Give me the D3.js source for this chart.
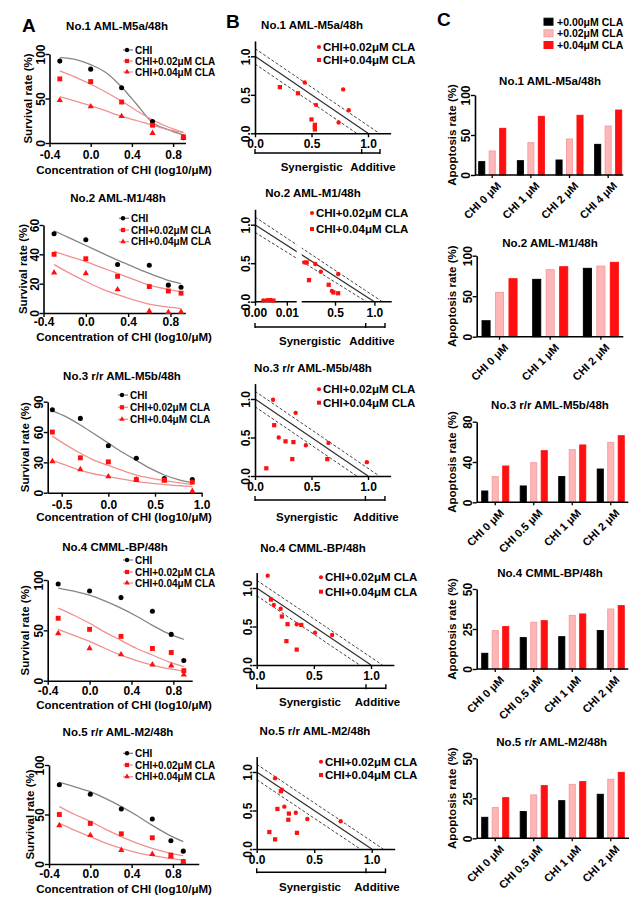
<!DOCTYPE html>
<html><head><meta charset="utf-8">
<script src="https://cdn.jsdelivr.net/npm/d3@7"></script>
<style>body{margin:0;background:#fff}svg{display:block}</style>
</head><body><svg id="chart" width="644" height="898"></svg>
<script>
// ================= DATA =================
// ---- Panel A : survival curves ----
const aTitles = ["No.1 AML-M5a/48h","No.2 AML-M1/48h","No.3 r/r AML-M5b/48h","No.4 CMML-BP/48h","No.5 r/r AML-M2/48h"];
const aSeries = ["CHI","CHI+0.02\u03bcM  CLA","CHI+0.04\u03bcM  CLA"];
const aXTicks = [-0.4,0.0,0.4,0.8];
const aXTicks3 = [-0.5,0.0,0.5,1.0];
// log10 doses
const aDoses1 = [-0.3,0,0.3,0.6,0.9];
const aDoses2 = [-0.3,0,0.3,0.6,0.78,0.9];
const aDoses3 = [-0.6,-0.3,0,0.3,0.6,0.9];
const aDoses4 = [-0.3,0,0.3,0.6,0.78,0.9];
const aDoses5 = [-0.3,0,0.3,0.6,0.78,0.9];
// measured points
const a1CHI = [92,83,62,24,6],           a1CLA02 = [72,69,46,20,7],           a1CLA04 = [48,41,30,11,6];
const a2CHI = [54,50,33,32.5,19,17.5],   a2CLA02 = [40,37,25,18,15,13.5],     a2CLA04 = [27.5,27,16,1.2,0.5,0.7];
const a3CHI = [82,73.5,46.5,34,14,13],   a3CLA02 = [60,34.5,30.5,13,12.5,10.5], a3CLA04 = [31,23,16,13,12,1.5];
const a4CHI = [96,89,82.5,69,46,20],     a4CLA02 = [62,51,44,32,28,10],       a4CLA04 = [47,32,26,16,15,6];
const a5CHI = [80,70.5,55.5,45.5,23.5,13], a5CLA02 = [50,41,30.5,26.5,9,2.5], a5CLA04 = [39,29,14,10,7.5,2];
// fitted curves
const aFitX = [-0.3,-0.15,0,0.15,0.3,0.45,0.6,0.75,0.9];
const aFitX3 = [-0.6,-0.45,-0.3,-0.15,0,0.15,0.3,0.45,0.6,0.75,0.9];
const a1FitCHI = [96,94,88,79,63,43,23,15,9],     a1Fit02 = [81,74,66,57,47,36,26,18,12],   a1Fit04 = [52,47,42,36,30,25,20,15,12];
const a2FitCHI = [56,51,46,41,36,31.5,27,23,20],  a2Fit02 = [42,38.5,35,31,27,23,19,16.5,14.5], a2Fit04 = [33,27,21.5,16.5,12.5,9,6,4.3,3];
const a3FitCHI = [81,75,67,58,49,40,32,24,17.5,13,10], a3Fit02 = [56,47,39,32,27,22,17.5,14.5,12,10,8], a3Fit04 = [32,27,22,18.5,16,13.5,11,9.5,8,7,6];
const a4FitCHI = [92,89,85,79,72,64,55,47,41],    a4Fit02 = [72,65,57,48,40,32,25.5,19,14], a4Fit04 = [51,45,39,32,25.5,20,15.5,12,9.6];
const a5FitCHI = [82.5,78,73,66,58,49,39,30,22.6], a5Fit02 = [58,50,43,35,27.6,21,15.8,11.5,8.4], a5Fit04 = [41,34,27.6,21,15.8,11.5,8.4,6,4];

// ---- Panel B : isobolograms [x, y] ----
const bSeries = ["CHI+0.02\u03bcM CLA","CHI+0.04\u03bcM CLA"];
const bTicks = [0,0.5,1.0];
const bZones = ["Synergistic","Additive"];
const b1CLA02 = [[0.44,0.66],[0.78,0.57],[0.83,0.30],[0.54,0.37],[0.74,0.14]];
const b1CLA04 = [[0.22,0.60],[0.38,0.52],[0.50,0.18],[0.53,0.11],[0.53,0.08],[0.53,0.05]];
const b2CLA02 = [[0.0026,0.015],[0.0037,0.02],[0.11,0.51],[0.25,0.49],[0.32,0.39],[0.54,0.36],[0.46,0.14]];
const b2CLA04 = [[0.0047,0.02],[0.0058,0.015],[0.14,0.51],[0.17,0.28],[0.42,0.22],[0.48,0.12],[0.54,0.11]];
const b3CLA02 = [[0.16,0.99],[0.36,0.82],[0.21,0.50],[0.45,0.40],[0.65,0.43],[0.99,0.18]];
const b3CLA04 = [[0.17,0.66],[0.27,0.45],[0.34,0.44],[0.33,0.22],[0.64,0.22],[0.10,0.10]];
const b4CLA02 = [[0.096,1.16],[0.15,0.78],[0.21,0.73],[0.35,0.53],[0.51,0.42],[0.66,0.39]];
const b4CLA04 = [[0.125,0.85],[0.22,0.63],[0.27,0.53],[0.39,0.52],[0.26,0.31],[0.35,0.20]];
const b5CLA02 = [[0.16,0.92],[0.22,0.77],[0.24,0.55],[0.34,0.47],[0.44,0.39],[0.73,0.36]];
const b5CLA04 = [[0.21,0.75],[0.18,0.52],[0.28,0.46],[0.275,0.38],[0.35,0.21],[0.11,0.22],[0.16,0.125]];

// ---- Panel C : apoptosis bars ----
const cSeries = ["+0.00\u03bcM CLA","+0.02\u03bcM CLA","+0.04\u03bcM CLA"];
const cCats1 = ["CHI 0 \u03bcM","CHI 1 \u03bcM","CHI 2 \u03bcM","CHI 4 \u03bcM"];
const cCats2 = ["CHI 0 \u03bcM","CHI 1 \u03bcM","CHI 2 \u03bcM"];
const cCats3 = ["CHI 0 \u03bcM","CHI 0.5 \u03bcM","CHI 1 \u03bcM","CHI 2 \u03bcM"];
const c1CLA000 = [16.7,17.9,18.7,38.3], c1CLA002 = [30,40.4,45,61.2], c1CLA004 = [58.3,73.3,74.6,81.2];
const c2CLA000 = [19.7,70.8,84.4],      c2CLA002 = [54.7,82.7,87.2],  c2CLA004 = [71.6,86.4,91.8];
const c3CLA000 = [11.2,16.2,25.5,33],   c3CLA002 = [25.5,39.3,52.2,59.5], c3CLA004 = [36,51.2,56.9,66.1];
const c4CLA000 = [9.8,19.6,20.2,24],    c4CLA002 = [24,29.2,33.5,37.5],   c4CLA004 = [26.5,30.2,34.4,39.6];
const c5CLA000 = [13.1,16.7,23.5,27.5], c5CLA002 = [19.2,27.1,33.7,36.9], c5CLA004 = [25.4,32.9,35.4,41.2];

// ================= DRAWING =================
const FONT = '"Liberation Sans", Arial, Helvetica, sans-serif';
const svg = d3.select("#chart");
const RED = "#ff1010", PINK_LINE = "#f29090", PINK_BAR = "#ffb6b6";

function txt(g, x, y, s, o = {}) {
  return g.append("text").attr("x", x).attr("y", y).text(s)
    .attr("font-family", FONT).attr("font-size", o.size || 12).attr("font-weight", o.weight || "bold")
    .attr("text-anchor", o.anchor || "middle").attr("dominant-baseline", o.base || "central")
    .attr("fill", o.fill || "#000").attr("transform", o.rot ? `rotate(${o.rot},${x},${y})` : null);
}
function styleAxis(g, size) {
  g.select(".domain").attr("stroke", "#000").attr("stroke-width", 1.6);
  g.selectAll(".tick line").attr("stroke", "#000").attr("stroke-width", 1.4);
  g.selectAll(".tick text").attr("font-family", FONT).attr("font-weight", "bold").attr("font-size", size).attr("fill", "#000");
}
function rotY(g, off) {
  g.selectAll(".tick text").attr("transform", "rotate(-90)").attr("x", 0).attr("y", -off)
    .attr("dy", 0).attr("text-anchor", "middle");
}
function xLabels(g, centerOff) {
  g.selectAll(".tick text").attr("y", centerOff).attr("dy", 0).attr("dominant-baseline", "central");
}

// panel letters
txt(svg, 22, 32, "A", {size: 19, anchor: "start", base: "alphabetic"});
txt(svg, 226, 28, "B", {size: 19, anchor: "start", base: "alphabetic"});
txt(svg, 437, 26, "C", {size: 19, anchor: "start", base: "alphabetic"});

// ---------- A ----------
const aCurveColors = ["#858585", PINK_LINE, PINK_LINE];
const aPointColors = ["#000", RED, RED];
const aSymbols = [d3.symbolCircle, d3.symbolSquare, d3.symbolTriangle];
const aSymSize = [20, 24, 17];
const aLayout = [
  {tx:117, ty:26,  x0:49.5, xMin:-0.4, xMax:0.92, ppu:103,   yTop:54,    yBot:143,   yMax:100, yTicks:[0,50,100],   xTicks:aXTicks,  legX:123, legY:[50,61,72],        axY:170,   ylX:28, tlOff:12},
  {tx:118, ty:198, x0:43.5, xMin:-0.4, xMax:0.94, ppu:105.8, yTop:225,   yBot:313,   yMax:60,  yTicks:[0,20,40,60], xTicks:aXTicks,  legX:119, legY:[218.3,230,241.7], axY:336.7, ylX:23, tlOff:9},
  {tx:122, ty:376, x0:47.7, xMin:-0.65,xMax:1.0,  ppu:93.3,  yTop:401.7, yBot:492.7, yMax:90,  yTicks:[0,30,60,90], xTicks:aXTicks3, legX:118, legY:[395,407.3,419.3], axY:516.7, ylX:25, tlOff:12.5},
  {tx:115, ty:547, x0:47.7, xMin:-0.4, xMax:0.98, ppu:104.7, yTop:580,   yBot:680.7, yMax:100, yTicks:[0,50,100],   xTicks:aXTicks,  legX:123, legY:[560,572,583],     axY:705,   ylX:25, tlOff:10},
  {tx:118, ty:732, x0:49,   xMin:-0.4, xMax:1.05, ppu:103.3, yTop:765,   yBot:864,   yMax:100, yTicks:[0,50,100],   xTicks:aXTicks,  legX:123, legY:[753.3,765,776.7], axY:889,   ylX:30, tlOff:9.5}
];
const aData = [
  {doses:aDoses1, vals:[a1CHI,a1CLA02,a1CLA04], fitX:aFitX,  fits:[a1FitCHI,a1Fit02,a1Fit04]},
  {doses:aDoses2, vals:[a2CHI,a2CLA02,a2CLA04], fitX:aFitX,  fits:[a2FitCHI,a2Fit02,a2Fit04]},
  {doses:aDoses3, vals:[a3CHI,a3CLA02,a3CLA04], fitX:aFitX3, fits:[a3FitCHI,a3Fit02,a3Fit04]},
  {doses:aDoses4, vals:[a4CHI,a4CLA02,a4CLA04], fitX:aFitX,  fits:[a4FitCHI,a4Fit02,a4Fit04]},
  {doses:aDoses5, vals:[a5CHI,a5CLA02,a5CLA04], fitX:aFitX,  fits:[a5FitCHI,a5Fit02,a5Fit04]}
];
aLayout.forEach((L, r) => {
  const D = aData[r];
  const g = svg.append("g");
  const x = d3.scaleLinear().domain([L.xMin, L.xMax]).range([L.x0, L.x0 + (L.xMax - L.xMin) * L.ppu]);
  const y = d3.scaleLinear().domain([0, L.yMax]).range([L.yBot, L.yTop]);
  const line = d3.line().x(d => x(d[0])).y(d => y(d[1])).curve(d3.curveMonotoneX);
  D.fits.forEach((f, i) => {
    g.append("path").datum(D.fitX.map((xx, j) => [xx, f[j]])).attr("d", line)
      .attr("fill", "none").attr("stroke", aCurveColors[i]).attr("stroke-width", 1.3);
  });
  const xa = g.append("g").attr("transform", `translate(0,${L.yBot})`)
    .call(d3.axisBottom(x).tickValues(L.xTicks).tickSize(4).tickSizeOuter(0).tickFormat(d => d.toFixed(1)));
  styleAxis(xa, 12); xLabels(xa, L.tlOff);
  const ya = g.append("g").attr("transform", `translate(${L.x0},0)`)
    .call(d3.axisLeft(y).tickValues(L.yTicks).tickSize(4).tickSizeOuter(0));
  styleAxis(ya, 12); rotY(ya, 5);
  D.vals.forEach((v, i) => {
    g.selectAll(null).data(D.doses.map((d, j) => [d, v[j]])).join("path")
      .attr("transform", d => `translate(${x(d[0])},${y(d[1])})`)
      .attr("d", d3.symbol(aSymbols[i], aSymSize[i])()).attr("fill", aPointColors[i]);
  });
  txt(g, L.tx, L.ty, aTitles[r], {size: 11.5});
  txt(g, 124, L.axY, "Concentration of CHI (log10/\u03bcM)", {size: 11.5});
  txt(g, L.ylX, (L.yTop + L.yBot) / 2, "Survival rate (%)", {size: 11.5, rot: -90});
  aSeries.forEach((s, i) => {
    const ly = L.legY[i];
    g.append("line").attr("x1", L.legX).attr("x2", L.legX + 10).attr("y1", ly).attr("y2", ly)
      .attr("stroke", aCurveColors[i]).attr("stroke-width", 1.3);
    g.append("path").attr("transform", `translate(${L.legX + 4},${ly})`)
      .attr("d", d3.symbol(aSymbols[i], aSymSize[i] * 0.75)()).attr("fill", aPointColors[i]);
    txt(g, L.legX + 12, ly, s, {size: 10, anchor: "start"});
  });
});

// ---------- B ----------
const bLayout = [
  {tx:312, ty:25,    y0:133.3, x0:255,   ppu:113,   legDot:319, legY:[47,60],       brY:153,   labY:166.7, brk:[0,0.944,1.106], labX:[311.7,373]},
  {tx:313, ty:193,   y0:301.7, broken:true,                     legDot:312, legY:[213,229],     brY:327,   labY:341,   brk:[0,0.89,1.135],  labX:[310,372]},
  {tx:313, ty:368.3, y0:476,   x0:255,   ppu:113,   legDot:319, legY:[389.3,402.7], brY:500,   labY:516.7, brk:[0,0.977,1.15],  labX:[307,376]},
  {tx:313, ty:548.3, y0:665,   x0:256.7, ppu:114.3, legDot:321, legY:[577.3,591.7], brY:688.3, labY:701.7, brk:[0,0.956,1.13],  labX:[310,377.5]},
  {tx:315, ty:730.7, y0:849,   x0:256.7, ppu:115,   legDot:321, legY:[761.7,775],   brY:872.3, labY:886.7, brk:[0,0.95,1.12],   labX:[310,377]}
];
const bData = [[b1CLA02,b1CLA04],[b2CLA02,b2CLA04],[b3CLA02,b3CLA04],[b4CLA02,b4CLA04],[b5CLA02,b5CLA04]];
const bSym = [d3.symbolCircle, d3.symbolSquare];
const bSymSize = [15, 18];
bLayout.forEach((L, r) => {
  const g = svg.append("g");
  const y = d3.scaleLinear().domain([0, 1.2]).range([L.y0, L.y0 - 1.2 * 77]);
  let x, x0;
  if (L.broken) {
    x = d3.scaleLinear().domain([0, 0.0131, 0.077, 1.22]).range([255, 296.7, 301.7, 391.7]);
    x0 = 255;
  } else {
    x = d3.scaleLinear().domain([0, 1.2]).range([L.x0, L.x0 + 1.2 * L.ppu]);
    x0 = L.x0;
  }
  const ln = d3.line().x(d => x(d[0])).y(d => y(d[1]));
  g.append("path").attr("d", ln([[0, 1.1], [1.1, 0]])).attr("stroke", "#444").attr("stroke-width", 1).attr("stroke-dasharray", "3,2").attr("fill", "none");
  g.append("path").attr("d", ln([[0, 0.9], [0.9, 0]])).attr("stroke", "#444").attr("stroke-width", 1).attr("stroke-dasharray", "3,2").attr("fill", "none");
  g.append("path").attr("d", ln([[0, 1], [1, 0]])).attr("stroke", "#333").attr("stroke-width", 1.3).attr("fill", "none");
  if (L.broken) g.append("rect").attr("x", 296.7).attr("y", y(1.2)).attr("width", 5).attr("height", L.y0 - y(1.2) + 3).attr("fill", "#fff");
  const xAxis = d3.axisBottom(x).tickValues(L.broken ? [0, 0.01, 0.5, 1.0] : bTicks).tickSize(4).tickSizeOuter(0)
    .tickFormat(d => (L.broken && d < 0.1) ? d.toFixed(2) : d.toFixed(1));
  const xa = g.append("g").attr("transform", `translate(0,${L.y0})`).call(xAxis);
  styleAxis(xa, 12); xLabels(xa, 11);
  if (L.broken) {
    xa.select(".domain").remove();
    [[0, 0.0131], [0.077, 1.22]].forEach(s => xa.append("line").attr("x1", x(s[0])).attr("x2", x(s[1])).attr("stroke", "#000").attr("stroke-width", 1.6));
  }
  const ya = g.append("g").attr("transform", `translate(${x0},0)`)
    .call(d3.axisLeft(y).tickValues(bTicks).tickSize(4).tickSizeOuter(0).tickFormat(d => d.toFixed(1)));
  styleAxis(ya, 12); rotY(ya, 5);
  bData[r].forEach((pts, i) => {
    g.selectAll(null).data(pts).join("path")
      .attr("transform", d => `translate(${x(d[0])},${y(d[1])})`)
      .attr("d", d3.symbol(bSym[i], bSymSize[i])()).attr("fill", RED);
  });
  txt(g, L.tx, L.ty, aTitles[r], {size: 11.5});
  bSeries.forEach((s, i) => {
    g.append("path").attr("transform", `translate(${L.legDot},${L.legY[i]})`)
      .attr("d", d3.symbol(bSym[i], bSymSize[i] * 0.9)()).attr("fill", RED);
    txt(g, L.legDot + 4, L.legY[i], s, {size: 11.5, anchor: "start"});
  });
  // bracket
  const bx = L.brk.map(v => x(v));
  g.append("line").attr("x1", bx[0]).attr("x2", bx[2]).attr("y1", L.brY).attr("y2", L.brY).attr("stroke", "#000").attr("stroke-width", 1.4);
  bx.forEach(v => g.append("line").attr("x1", v).attr("x2", v).attr("y1", L.brY - 4).attr("y2", L.brY + 1).attr("stroke", "#000").attr("stroke-width", 1.4));
  bZones.forEach((z, i) => txt(g, L.labX[i], L.labY, z, {size: 11.5}));
});

// ---------- C ----------
const cColors = ["#000", PINK_BAR, RED];
const cStroke = ["#000", "#f4a0a0", RED];
const cLayout = [
  {tx:550,   ty:80.7,  ax:475,   yBot:175,   yTop:95,    yMax:100, ticks:[0,50,100], band:[472.9,627.5], axEnd:623.3, gw:28},
  {tx:550,   ty:243.3, ax:476.7, yBot:336.7, yTop:255.7, yMax:100, ticks:[0,50,100], band:[474.2,626.2], axEnd:623.3, gw:36},
  {tx:550,   ty:405,   ax:476.7, yBot:502.3, yTop:421.7, yMax:80,  ticks:[0,40,80],  band:[476,630],     axEnd:628.3, gw:28},
  {tx:550,   ty:573.3, ax:476.7, yBot:669,   yTop:589,   yMax:50,  ticks:[0,25,50],  band:[476,630],     axEnd:628.3, gw:28},
  {tx:551.7, ty:741.7, ax:476.7, yBot:838.3, yTop:758.3, yMax:50,  ticks:[0,25,50],  band:[476,630],     axEnd:629,   gw:28}
];
const cData = [
  {cats:cCats1, vals:[c1CLA000,c1CLA002,c1CLA004]},
  {cats:cCats2, vals:[c2CLA000,c2CLA002,c2CLA004]},
  {cats:cCats3, vals:[c3CLA000,c3CLA002,c3CLA004]},
  {cats:cCats3, vals:[c4CLA000,c4CLA002,c4CLA004]},
  {cats:cCats3, vals:[c5CLA000,c5CLA002,c5CLA004]}
];
cLayout.forEach((L, r) => {
  const D = cData[r];
  const g = svg.append("g");
  const x = d3.scaleBand().domain(D.cats).range(L.band);
  const xi = d3.scaleBand().domain(cSeries).range([-L.gw / 2, L.gw / 2]).paddingInner(0.33);
  const y = d3.scaleLinear().domain([0, L.yMax]).range([L.yBot, L.yTop]);
  D.vals.forEach((v, i) => {
    g.selectAll(null).data(D.cats.map((c, j) => [c, v[j]])).join("rect")
      .attr("x", d => x(d[0]) + x.bandwidth() / 2 + xi(cSeries[i]) + 0.5)
      .attr("width", xi.bandwidth() - 1)
      .attr("y", d => y(d[1])).attr("height", d => L.yBot - y(d[1]))
      .attr("fill", cColors[i]).attr("stroke", cStroke[i]).attr("stroke-width", 1);
  });
  g.append("line").attr("x1", L.ax).attr("x2", L.axEnd).attr("y1", L.yBot).attr("y2", L.yBot).attr("stroke", "#000").attr("stroke-width", 1.6);
  D.cats.forEach(c => {
    const cx = x(c) + x.bandwidth() / 2;
    g.append("line").attr("x1", cx).attr("x2", cx).attr("y1", L.yBot).attr("y2", L.yBot + 3).attr("stroke", "#000").attr("stroke-width", 1.3);
    g.append("text").text(c).attr("font-family", FONT).attr("font-weight", "bold").attr("font-size", 11)
      .attr("text-anchor", "end").attr("transform", `translate(${cx + 4},${L.yBot + 6}) rotate(-45)`).attr("dy", "0.7em");
  });
  const ya = g.append("g").attr("transform", `translate(${L.ax},0)`)
    .call(d3.axisLeft(y).tickValues(L.ticks).tickSize(4).tickSizeOuter(0));
  styleAxis(ya, 12); rotY(ya, 5);
  txt(g, L.tx, L.ty, aTitles[r], {size: 11.5});
  txt(g, 452, (L.yTop + L.yBot) / 2, "Apoptosis rate (%)", {size: 11.5, rot: -90});
});
// C legend
cSeries.forEach((s, i) => {
  const ly = [21.7, 33.3, 45][i];
  svg.append("rect").attr("x", 544).attr("y", ly - 3.5).attr("width", 9).attr("height", 7)
    .attr("fill", cColors[i]).attr("stroke", cStroke[i]).attr("stroke-width", 1);
  txt(svg, 557, ly, s, {size: 10.5, anchor: "start"});
});
</script></body></html>
